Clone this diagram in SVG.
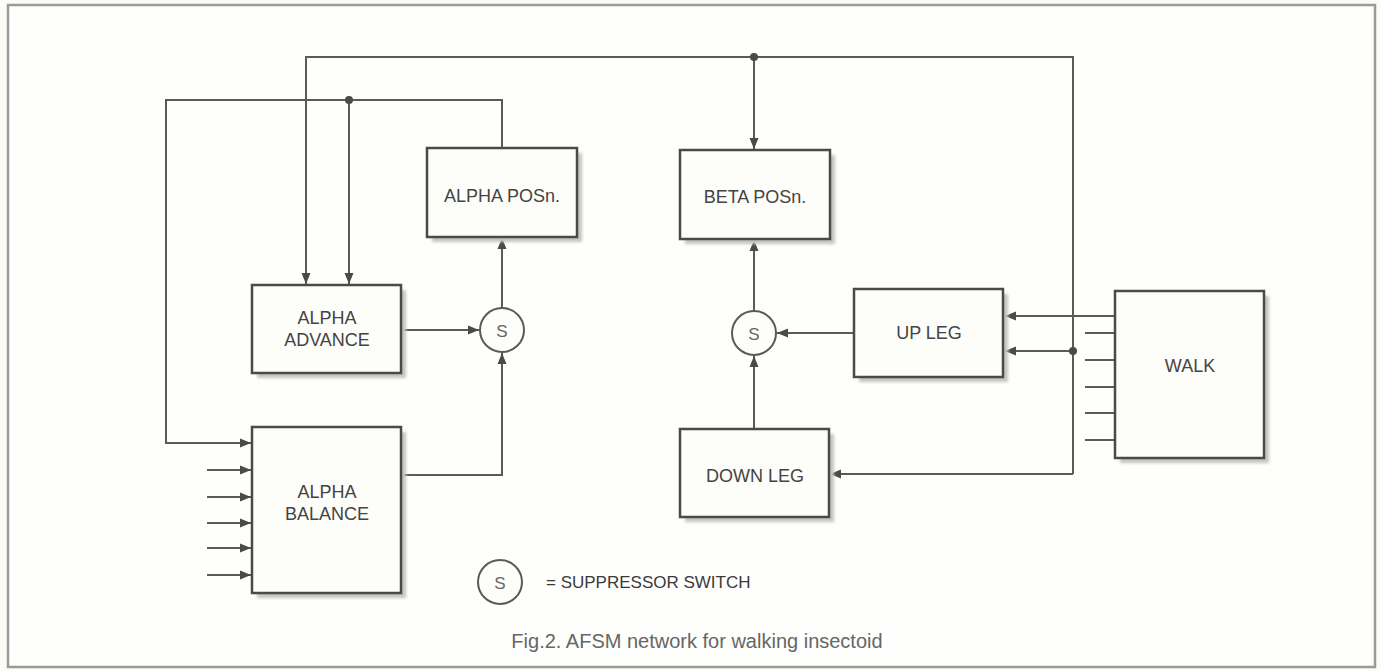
<svg xmlns="http://www.w3.org/2000/svg" width="1380" height="671" viewBox="0 0 1380 671">
<style>
.box{fill:#fdfdf9;stroke:#4a4a48;stroke-width:2.5}
.sh{fill:#c4c4c0;filter:url(#blur)}
.ln{fill:none;stroke:#5a5a58;stroke-width:2}
.arr{marker-end:url(#ah)}
.t{font-family:"Liberation Sans",Arial,sans-serif;font-size:18px;fill:#444;text-anchor:middle;dominant-baseline:central}
.sw{fill:#fdfdf9;stroke:#5a5a58;stroke-width:2}
.st{font-family:"Liberation Sans",Arial,sans-serif;font-size:17px;fill:#666;text-anchor:middle;dominant-baseline:central}
</style>
<defs>
<filter id="blur" x="-10%" y="-10%" width="120%" height="120%"><feGaussianBlur stdDeviation="1.5"/></filter>
<marker id="ah" markerUnits="userSpaceOnUse" markerWidth="12" markerHeight="10" refX="11" refY="5" orient="auto"><path d="M0,0.5 L11,5 L0,9.5 z" fill="#4a4a48"/></marker>
</defs>
<rect x="0" y="0" width="1380" height="671" fill="#fcfcf7"/>
<rect x="8" y="5" width="1367" height="662" fill="#fefefc" stroke="#9a9a96" stroke-width="2.5"/>

<g id="connectors">
<polyline class="ln arr" points="1073,474 1073,57 306,57 306,284"/>
<polyline class="ln arr" points="1073,474 830,474"/>
<polyline class="ln arr" points="754,57 754,149"/>
<polyline class="ln arr" points="1073,351 1005,351"/>
<circle cx="754" cy="57" r="4" fill="#4a4a48"/>
<circle cx="1073" cy="351" r="4" fill="#4a4a48"/>
<polyline class="ln arr" points="502,148 502,100 166,100 166,443 251,443"/>
<polyline class="ln arr" points="349,100 349,284"/>
<circle cx="349" cy="100" r="4" fill="#4a4a48"/>
<polyline class="ln arr" points="401,330 479,330"/>
<polyline class="ln arr" points="401,475 502,475 502,353"/>
<polyline class="ln arr" points="502,308 502,238"/>
<polyline class="ln arr" points="854,333 777,333"/>
<polyline class="ln arr" points="754,429 754,356"/>
<polyline class="ln arr" points="754,311 754,240"/>
<polyline class="ln arr" points="1115,316 1005,316"/>
<path class="ln" d="M1085,333H1115M1085,360H1115M1085,387H1115M1085,413H1115M1085,440H1115"/>
<polyline class="ln arr" points="207,470 251,470"/>
<polyline class="ln arr" points="207,497 251,497"/>
<polyline class="ln arr" points="207,523 251,523"/>
<polyline class="ln arr" points="207,548 251,548"/>
<polyline class="ln arr" points="207,575 251,575"/>
</g>

<g id="alpha-posn"><rect class="sh" x="432" y="153" width="150" height="89"/><rect class="box" x="427" y="148" width="150" height="89"/><text class="t" x="502" y="196">ALPHA POSn.</text></g>
<g id="alpha-advance"><rect class="sh" x="257" y="290" width="149" height="88"/><rect class="box" x="252" y="285" width="149" height="88"/><text class="t" x="327" y="318">ALPHA</text><text class="t" x="327" y="340">ADVANCE</text></g>
<g id="alpha-balance"><rect class="sh" x="257" y="432" width="149" height="166"/><rect class="box" x="252" y="427" width="149" height="166"/><text class="t" x="327" y="492">ALPHA</text><text class="t" x="327" y="514">BALANCE</text></g>
<g id="s-alpha"><circle class="sw" cx="502" cy="330" r="22"/><text class="st" x="502" y="331">S</text></g>
<g id="beta-posn"><rect class="sh" x="685" y="155" width="150" height="89"/><rect class="box" x="680" y="150" width="150" height="89"/><text class="t" x="755" y="197">BETA POSn.</text></g>
<g id="s-beta"><circle class="sw" cx="754" cy="333" r="22"/><text class="st" x="754" y="334">S</text></g>
<g id="up-leg"><rect class="sh" x="859" y="294" width="149" height="88"/><rect class="box" x="854" y="289" width="149" height="88"/><text class="t" x="929" y="333">UP LEG</text></g>
<g id="down-leg"><rect class="sh" x="685" y="434" width="149" height="88"/><rect class="box" x="680" y="429" width="149" height="88"/><text class="t" x="755" y="476">DOWN LEG</text></g>
<g id="walk"><rect class="sh" x="1120" y="296" width="149" height="167"/><rect class="box" x="1115" y="291" width="149" height="167"/><text class="t" x="1190" y="366">WALK</text></g>
<g id="legend"><circle class="sw" cx="500" cy="582" r="22"/><text class="st" x="500" y="583">S</text><text class="t" x="546" y="582" style="text-anchor:start;font-size:17px;fill:#3a3a3a">= SUPPRESSOR SWITCH</text></g>
<g id="caption"><text class="t" x="697" y="641" style="font-size:20px;fill:#666">Fig.2. AFSM network for walking insectoid</text></g>
</svg>
